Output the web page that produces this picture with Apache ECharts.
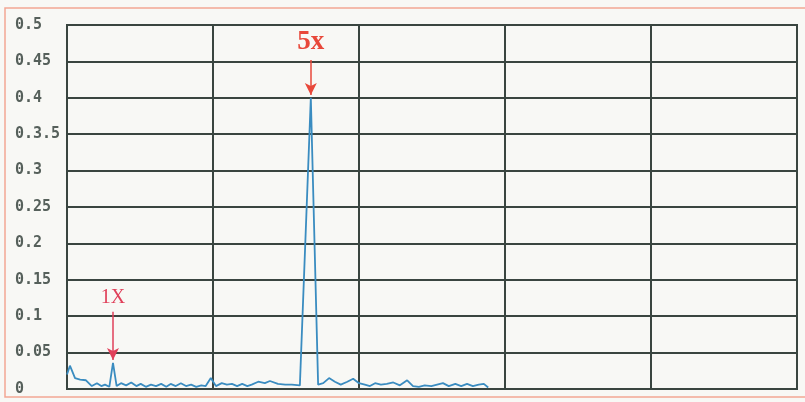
<!DOCTYPE html>
<html>
<head>
<meta charset="utf-8">
<script src="https://cdn.jsdelivr.net/npm/echarts@6/dist/echarts.min.js"></script>
<style>
html,body{margin:0;padding:0;background:#f8f8f5;}
#c{width:805px;height:402px;}
</style>
</head>
<body>
<div id="c"></div>
<script>
// Frequency positions (axis units, 0..100) and amplitudes
var xValues = [0,0.4,1.1,1.8,2.6,3.4,4.1,4.7,5.2,5.8,6.3,6.8,7.4,8.1,8.8,9.5,10.1,10.8,11.5,12.2,12.9,13.6,14.2,14.9,15.6,16.3,17.0,17.7,18.4,19.0,19.7,20.4,21.2,21.9,22.6,23.3,24.0,24.7,25.3,26.2,27.1,27.8,28.9,29.9,30.8,31.9,33.4,34.4,35.1,35.9,36.7,37.5,38.4,39.2,40.0,40.8,41.5,42.2,43.0,43.8,44.7,45.6,46.6,47.4,48.2,49.0,49.9,50.7,51.5,52.3,53.2,54.0,54.8,55.6,56.4,57.1,57.7];
var yValues = [0.02,0.032,0.015,0.013,0.012,0.004,0.008,0.004,0.006,0.003,0.036,0.004,0.008,0.005,0.009,0.004,0.007,0.003,0.006,0.004,0.007,0.003,0.007,0.004,0.008,0.004,0.006,0.003,0.005,0.004,0.015,0.004,0.008,0.006,0.007,0.004,0.007,0.004,0.006,0.01,0.008,0.011,0.007,0.006,0.006,0.005,0.4,0.006,0.008,0.015,0.01,0.006,0.01,0.014,0.008,0.006,0.004,0.008,0.006,0.007,0.009,0.005,0.012,0.004,0.003,0.005,0.004,0.006,0.008,0.004,0.007,0.004,0.007,0.004,0.006,0.007,0.002];
var yTickLabels = ['0','0.05','0.1','0.15','0.2','0.25','0.3','0.3.5','0.4','0.45','0.5'];
var annotations = [
  {name:'1X', x:6.3, from:0.106, to:0.040},
  {name:'5x', x:33.4, from:0.452, to:0.404}
];

var data = xValues.map(function(x,i){return [x,yValues[i]];});
var gridColor = '#3a4540';

var chart = echarts.init(document.getElementById('c'));
chart.setOption({
  backgroundColor:'#f8f8f5',
  animation:false,
  graphic:[{
    type:'rect', shape:{x:5,y:8,width:820,height:389},
    style:{fill:'none',stroke:'#f2a694',lineWidth:1.5}, z:-1
  }],
  grid:{left:67,right:8,top:25,bottom:13,show:true,borderColor:gridColor,borderWidth:2,backgroundColor:'transparent'},
  xAxis:{type:'value',min:0,max:100,interval:20,
    axisLine:{show:false},axisTick:{show:false},axisLabel:{show:false},
    splitLine:{show:true,lineStyle:{color:gridColor,width:2}}},
  yAxis:{type:'value',min:0,max:0.5,interval:0.05,
    axisLine:{show:false},axisTick:{show:false},
    splitLine:{show:true,lineStyle:{color:gridColor,width:2}},
    axisLabel:{align:'left',margin:52,color:'#56605b',fontFamily:'DejaVu Sans Mono',fontWeight:'bold',fontSize:15,
      formatter:function(v){return yTickLabels[Math.round(v/0.05)];}}},
  series:[{
    type:'line',data:data,symbol:'none',
    lineStyle:{color:'#3a8cc0',width:1.8},
    markLine:{
      silent:true,symbol:['none','arrow'],symbolSize:[9,12],
      lineStyle:{type:'solid',width:1.5},
      label:{show:true,position:'start',distance:4,fontFamily:'Liberation Serif',fontSize:22,
        formatter:function(p){return p.name;}},
      data:annotations.map(function(a,i){
        var col = i===0 ? '#e0405a' : '#e8483a';
        return [
          {name:a.name,coord:[a.x,a.from],lineStyle:{color:col},
           label:{color:col,fontSize:i===0?20:27,fontWeight:i===0?'normal':'bold'}},
          {coord:[a.x,a.to]}
        ];
      })
    }
  }]
});
</script>
</body>
</html>
